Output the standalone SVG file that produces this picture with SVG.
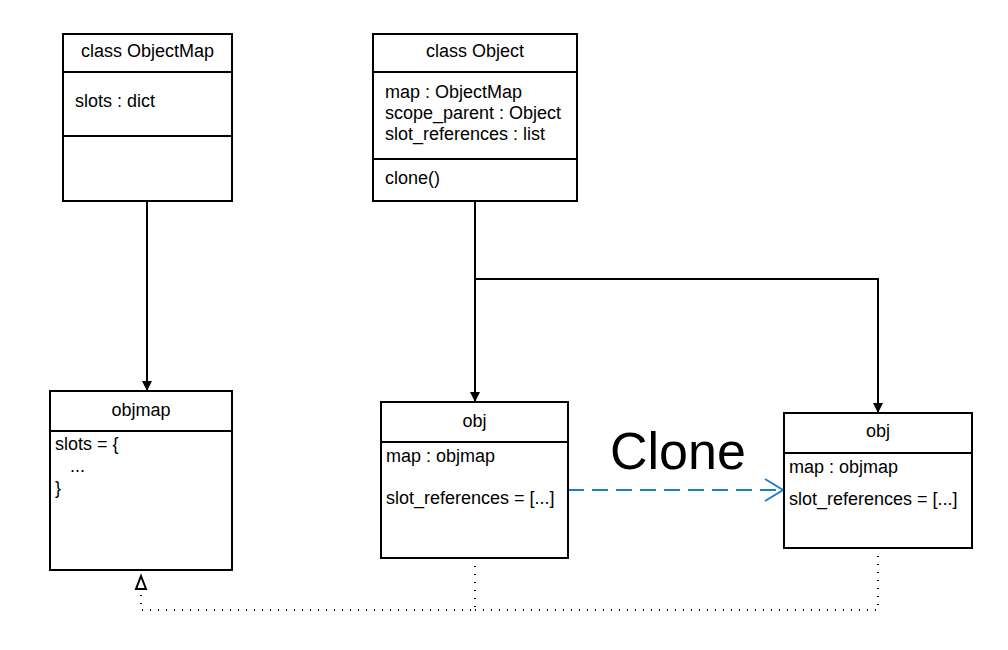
<svg xmlns="http://www.w3.org/2000/svg" width="1008" height="650" viewBox="0 0 1008 650">
<style>
.box{fill:#fff;stroke:#000;stroke-width:2}
.ln{stroke:#000;stroke-width:2}
text{font-family:"Liberation Sans",Arial,sans-serif;font-size:18px;fill:#000}
.c{text-anchor:middle}
.con{fill:none;stroke:#000;stroke-width:2}
.dot{fill:none;stroke:#000;stroke-width:2;stroke-dasharray:1 7}
</style>
<defs>
<marker id="fill" markerWidth="10" markerHeight="14" refX="10" refY="7" orient="auto" markerUnits="userSpaceOnUse"><path d="M0,2 L10,7 L0,12 Z" fill="#000"/></marker>
<marker id="open" markerWidth="22" markerHeight="24" refX="19" refY="12" orient="auto" markerUnits="userSpaceOnUse"><path d="M1,1 L19,12 L1,23" fill="none" stroke="#1f7fc4" stroke-width="2"/></marker>
</defs>
<g id="connectors">
<path class="con" d="M147,201 V391" marker-end="url(#fill)"/>
<path class="con" d="M475,201 V402" marker-end="url(#fill)"/>
<path class="con" d="M475,279 H878 V413" marker-end="url(#fill)"/>
<path d="M568,490 H783" fill="none" stroke="#1f7fc4" stroke-width="2" stroke-dasharray="16 8" marker-end="url(#open)"/>
<path class="dot" d="M475,558 V610 H141 V590"/>
<path class="dot" d="M878,548 V610 H475"/>
<path d="M141,576 L146,589 H136 Z" fill="#fff" stroke="#000" stroke-width="2"/>
</g>
<g id="ObjectMapClass">
<rect class="box" x="63" y="34" width="169" height="167"/>
<line class="ln" x1="63" y1="72" x2="232" y2="72"/>
<line class="ln" x1="63" y1="136" x2="232" y2="136"/>
<text class="c" x="147.5" y="57">class ObjectMap</text>
<text x="75" y="107">slots : dict</text>
</g>
<g id="ObjectClass">
<rect class="box" x="373" y="34" width="204" height="167"/>
<line class="ln" x1="373" y1="72" x2="577" y2="72"/>
<line class="ln" x1="373" y1="159" x2="577" y2="159"/>
<text class="c" x="475" y="57">class Object</text>
<text x="385" y="98">map : ObjectMap</text>
<text x="385" y="119">scope_parent : Object</text>
<text x="385" y="140">slot_references : list</text>
<text x="385" y="184">clone()</text>
</g>
<g id="objmap">
<rect class="box" x="50" y="391" width="182" height="179"/>
<line class="ln" x1="50" y1="431" x2="232" y2="431"/>
<text class="c" x="141" y="416">objmap</text>
<text x="55" y="450">slots = {</text>
<text x="70" y="472">...</text>
<text x="55" y="494">}</text>
</g>
<g id="obj1">
<rect class="box" x="381" y="402" width="187" height="156"/>
<line class="ln" x1="381" y1="442" x2="568" y2="442"/>
<text class="c" x="474.5" y="427">obj</text>
<text x="386" y="462">map : objmap</text>
<text x="386" y="504">slot_references = [...]</text>
</g>
<g id="obj2">
<rect class="box" x="784" y="413" width="188" height="135"/>
<line class="ln" x1="784" y1="453" x2="972" y2="453"/>
<text class="c" x="878" y="437">obj</text>
<text x="789" y="473">map : objmap</text>
<text x="789" y="505">slot_references = [...]</text>
</g>
<text id="clone-label" x="610" y="469" style="font-size:52px">Clone</text>
</svg>
